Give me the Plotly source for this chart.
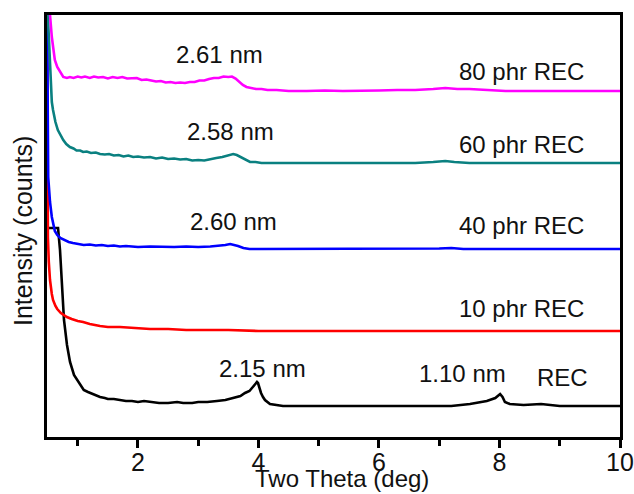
import plotly.graph_objects as go

# XRD patterns (two theta in deg, intensity in stacked arbitrary counts)
rec = [(0.49, 209), (0.673, 209), (0.706, 187), (0.739, 152), (0.772, 117), (0.822, 92), (0.872, 75),
       (0.938, 62), (1.038, 52), (1.10, 47), (1.17, 45), (1.25, 43), (1.37, 40), (1.45, 39), (1.5, 38),
       (1.6, 38), (1.702, 37), (1.8, 36), (1.9, 36), (2.0, 35), (2.1, 36), (2.2, 35), (2.35, 34), (2.5, 34),
       (2.65, 35), (2.75, 34), (2.9, 34), (3.0, 35), (3.15, 35), (3.31, 36), (3.45, 37), (3.577, 39),
       (3.7, 41), (3.776, 44), (3.85, 46), (3.892, 49), (3.94, 52), (3.975, 55), (3.992, 54), (4.02, 48),
       (4.042, 44), (4.075, 40), (4.108, 37), (4.191, 33), (4.3, 32), (4.407, 31), (4.8, 31), (5.3, 31),
       (5.8, 31), (6.3, 31), (6.8, 31), (7.2, 31), (7.51, 33), (7.79, 36), (7.93, 39), (7.98, 42),
       (8.01, 43), (8.05, 40), (8.09, 35), (8.17, 33), (8.4, 32), (8.69, 33), (9.0, 31), (9.5, 31), (10.0, 31)]

phr10 = [(0.49, 440), (0.495, 260), (0.505, 200), (0.52, 175), (0.54, 157), (0.57, 143), (0.59, 137),
         (0.63, 131), (0.66, 128), (0.72, 124), (0.82, 120), (0.9, 118), (1.0, 116), (1.09, 115), (1.2, 113),
         (1.37, 111), (1.5, 110), (1.7, 110), (1.92, 109), (2.2, 108), (2.5, 108), (2.8, 107), (3.03, 107),
         (3.5, 107), (4.0, 106), (4.69, 106), (5.5, 106), (6.5, 106), (7.5, 106), (8.5, 106), (10.0, 106)]

phr40 = [(0.49, 440), (0.495, 330), (0.50, 287), (0.51, 260), (0.54, 235), (0.57, 220), (0.62, 206),
         (0.66, 202), (0.71, 199), (0.78, 197), (0.85, 195), (0.92, 194), (1.0, 193), (1.1, 192), (1.2, 192.5),
         (1.3, 191.5), (1.4, 192), (1.5, 191), (1.6, 191.5), (1.7, 190.5), (1.8, 191), (2.0, 190), (2.2, 190.5),
         (2.4, 190), (2.6, 190), (2.8, 190.5), (3.0, 190), (3.2, 190.5), (3.35, 191), (3.45, 192), (3.53, 193),
         (3.6, 192), (3.66, 191), (3.75, 189), (3.85, 188), (4.0, 188), (4.3, 188), (4.7, 188), (5.2, 188),
         (5.7, 188), (6.2, 188), (6.7, 188), (7.0, 188.5), (7.2, 189), (7.4, 188), (7.8, 188), (8.3, 188),
         (8.8, 188), (9.3, 188), (10.0, 188)]

phr60 = [(0.49, 440), (0.52, 400), (0.54, 360), (0.57, 335), (0.59, 327), (0.63, 315), (0.67, 307),
         (0.72, 301), (0.76, 297), (0.81, 293), (0.87, 290), (0.93, 288.5), (0.98, 286.5), (1.04, 286.5),
         (1.09, 285), (1.15, 285.5), (1.22, 284), (1.3, 284.5), (1.37, 283), (1.45, 282.5), (1.52, 283), (1.6, 281.5),
         (1.68, 282), (1.76, 280.5), (1.84, 281.5), (1.92, 280), (2.0, 280.5), (2.1, 279.5), (2.2, 280), (2.3, 278.5),
         (2.4, 279.5), (2.5, 278), (2.6, 278.5), (2.7, 277.5), (2.8, 278), (2.9, 276.5), (3.0, 277), (3.1, 276.5),
         (3.2, 278), (3.3, 279), (3.4, 280), (3.5, 282), (3.58, 283), (3.64, 282), (3.7, 280), (3.78, 277),
         (3.86, 275), (3.95, 275), (4.05, 274), (4.15, 274), (4.3, 274), (4.6, 274), (5.0, 274), (5.4, 274),
         (5.8, 274), (6.2, 274), (6.6, 274), (6.9, 275), (7.1, 276), (7.25, 275), (7.5, 274), (7.9, 274),
         (8.3, 274), (8.7, 274), (9.1, 274), (9.5, 274), (10.0, 274)]

phr80 = [(0.49, 440), (0.54, 422), (0.57, 400), (0.60, 385), (0.62, 377), (0.66, 370), (0.71, 365),
         (0.76, 360), (0.82, 359), (0.87, 360), (0.93, 359), (1.0, 360.5), (1.06, 359.5), (1.12, 360.5), (1.2, 359),
         (1.27, 360.5), (1.34, 359.5), (1.42, 360), (1.5, 358.5), (1.58, 360), (1.66, 359), (1.74, 360), (1.82, 358.5),
         (1.9, 359), (1.98, 359), (2.06, 357), (2.14, 357.5), (2.22, 356.5), (2.3, 355.5), (2.38, 356), (2.46, 354.5),
         (2.54, 355), (2.62, 354), (2.7, 354.5), (2.78, 354), (2.86, 355), (2.94, 355), (3.02, 356.5), (3.1, 356.5),
         (3.18, 358), (3.26, 359), (3.34, 359), (3.42, 360.5), (3.5, 360), (3.56, 360.5), (3.62, 358.5), (3.68, 355),
         (3.74, 352), (3.8, 350), (3.88, 349), (3.96, 348), (4.05, 348), (4.15, 347), (4.3, 347), (4.5, 346),
         (4.8, 346), (5.1, 346.5), (5.4, 346), (5.7, 346), (6.0, 346.5), (6.3, 347), (6.6, 347), (6.9, 348),
         (7.1, 349), (7.3, 348), (7.5, 348), (7.8, 347), (8.1, 346), (8.5, 346), (8.9, 346), (9.3, 346),
         (9.7, 346), (10.0, 346)]

series_data = [rec, phr10, phr40, phr60, phr80]
series_names = ["REC", "10 phr REC", "40 phr REC", "60 phr REC", "80 phr REC"]
series_colors = ["#000000", "#FF0000", "#0000FF", "#0A8080", "#FF00FF"]

# curve labels (text, x, y, anchor)
label_texts = ["2.61 nm", "2.58 nm", "2.60 nm", "2.15 nm", "1.10 nm", "REC",
               "80 phr REC", "60 phr REC", "40 phr REC", "10 phr REC"]
label_x = [3.36, 3.54, 3.59, 4.06, 7.39, 9.05, 9.44, 9.44, 9.44, 9.44]
label_y = [383, 306, 216, 69, 64, 60, 366, 293, 212, 129]
label_anchor = ["center"] * 6 + ["right"] * 4

x_ticks = [2, 4, 6, 8, 10]
x_minor_ticks = [1, 3, 5, 7, 9]
x_title = "Two Theta (deg)"
y_title = "Intensity (counts)"

FONT = "Liberation Sans, Arial, sans-serif"

fig = go.Figure()
for data, name, color in zip(series_data, series_names, series_colors):
    fig.add_trace(go.Scatter(x=[p[0] for p in data], y=[p[1] for p in data], mode="lines",
                             name=name, line=dict(color=color, width=2.6), showlegend=False))

for t, x, y, a in zip(label_texts, label_x, label_y, label_anchor):
    fig.add_annotation(text=t, x=x, y=y, xref="x", yref="y", xanchor=a, yanchor="middle",
                       showarrow=False, font=dict(family=FONT, size=24, color="#111"))

fig.add_annotation(text=x_title, x=0.514, y=-0.062, xref="paper", yref="paper", xanchor="center",
                   yanchor="top", showarrow=False, font=dict(family=FONT, size=24, color="#111"))
fig.add_annotation(text=y_title, x=-0.042, y=0.488, xref="paper", yref="paper", xanchor="center",
                   yanchor="middle", textangle=-90, showarrow=False,
                   font=dict(family=FONT, size=25, color="#111"))

fig.update_layout(
    width=634, height=494, margin=dict(l=47, r=14, t=15, b=57),
    paper_bgcolor="white", plot_bgcolor="white",
    xaxis=dict(range=[0.49, 10], tickvals=x_ticks, ticks="outside", ticklen=8, tickwidth=2.5,
               tickcolor="black", showline=True, linecolor="black", linewidth=2.5, mirror=True,
               showgrid=False, zeroline=False, automargin=False, ticklabeloverflow="allow",
               ticklabelstandoff=-7,
               tickfont=dict(family=FONT, size=25, color="#111"),
               minor=dict(tickvals=x_minor_ticks, ticks="outside", ticklen=6, tickwidth=2.5, tickcolor="black")),
    yaxis=dict(range=[0, 422], showticklabels=False, ticks="", showline=True, linecolor="black",
               linewidth=2.5, mirror=True, showgrid=False, zeroline=False, automargin=False),
)

fig.write_html("out.html")
